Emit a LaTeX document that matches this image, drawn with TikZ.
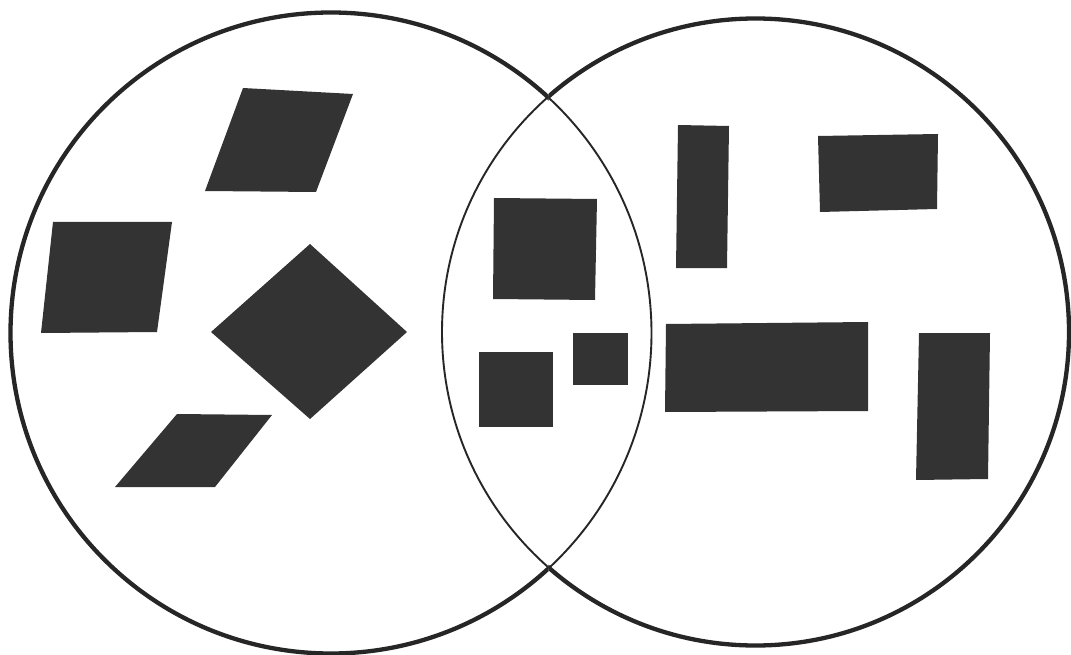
\documentclass[tikz,border=0pt]{standalone}
\begin{document}
\begin{tikzpicture}[x=1pt,y=-1pt,
  blob/.style={fill=black!80},
  outer/.style={draw=black!85,line width=4.3pt},
  inner/.style={draw=black!85,line width=1.9pt}]
\useasboundingbox (0,0) rectangle (1071,655);
\fill[white] (0,0) rectangle (1071,655);
% outer (thick) arcs
\begin{scope}
  \clip (-10,-10) rectangle (548.6,670);
  \draw[outer] (331,333) circle[radius=320.5];
\end{scope}
\begin{scope}
  \clip (548.6,-10) rectangle (1080,670);
  \draw[outer] (755.5,332) circle[radius=313.5];
\end{scope}
% inner (thin) arcs forming the lens
\begin{scope}
  \clip (548.6,-10) rectangle (1080,670);
  \draw[inner] (331,333) circle[radius=320.5];
\end{scope}
\begin{scope}
  \clip (-10,-10) rectangle (548.6,670);
  \draw[inner] (755.5,332) circle[radius=313.5];
\end{scope}
% left circle shapes
\fill[blob] (243,88) -- (353,94) -- (316,192) -- (205,191) -- cycle;
\fill[blob] (53,222) -- (172,222) -- (157,332) -- (41,333) -- cycle;
\fill[blob] (310,244) -- (407,332) -- (310,419) -- (211,332) -- cycle;
\fill[blob] (177,414) -- (272,415) -- (215,487) -- (115,487) -- cycle;
% lens shapes
\fill[blob] (494,198) -- (597,199) -- (595,300) -- (493,299) -- cycle;
\fill[blob] (479,352) -- (553,352) -- (553,427) -- (479,427) -- cycle;
\fill[blob] (573,333) -- (628,333) -- (628,385) -- (573,385) -- cycle;
% right circle shapes
\fill[blob] (678,125) -- (729,126) -- (727,268) -- (676,268) -- cycle;
\fill[blob] (818,136) -- (938,134) -- (937,209) -- (820,212) -- cycle;
\fill[blob] (666,324) -- (868,322) -- (868,411) -- (665,412) -- cycle;
\fill[blob] (919,333) -- (990,333) -- (988,479) -- (916,480) -- cycle;
\end{tikzpicture}
\end{document}
